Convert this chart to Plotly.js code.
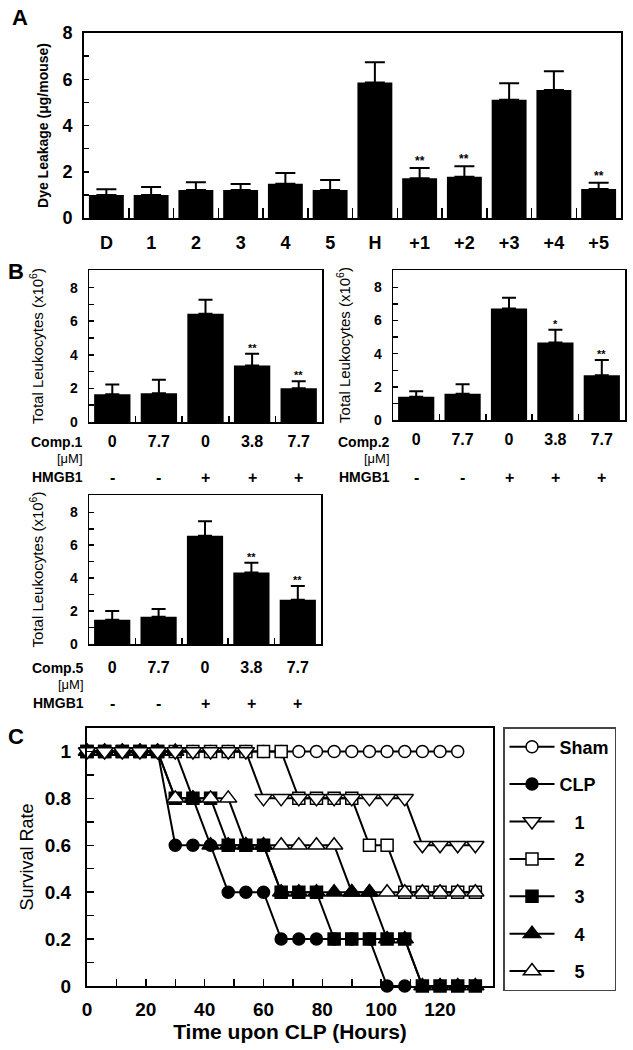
<!DOCTYPE html>
<html>
<head>
<meta charset="utf-8">
<script src="https://cdn.plot.ly/plotly-3.0.1.min.js"></script>
<style>html,body{margin:0;padding:0;background:#fff;}#chart{width:633px;height:1050px;}</style>
</head>
<body>
<div id="chart"></div>
<script>
// ---------- Panel A data ----------
const catsA = ["D","1","2","3","4","5","H","+1","+2","+3","+4","+5"];
const valsA = [0.99, 0.99, 1.21, 1.21, 1.48, 1.21, 5.86, 1.72, 1.78, 5.11, 5.53, 1.25];
const errA  = [0.25, 0.35, 0.34, 0.26, 0.47, 0.43, 0.88, 0.44, 0.46, 0.72, 0.82, 0.27];
const starsA = ["","","","","","","","**","**","","","**"];

// ---------- Panel B data ----------
const doseLabels = ["0","7.7","0","3.8","7.7"];
const hmgb1 = ["-","-","+","+","+"];
const valsB1 = [1.65, 1.71, 6.45, 3.36, 2.01];
const errB1  = [0.58, 0.80, 0.83, 0.70, 0.42];
const starsB1 = ["","","","**","**"];
const valsB2 = [1.40, 1.58, 6.72, 4.68, 2.70];
const errB2  = [0.34, 0.58, 0.66, 0.76, 0.92];
const starsB2 = ["","","","*","**"];
const valsB3 = [1.48, 1.66, 6.58, 4.35, 2.69];
const errB3  = [0.52, 0.47, 0.87, 0.59, 0.83];
const starsB3 = ["","","","**","**"];
const compNames = ["Comp.1","Comp.2","Comp.5"];

// ---------- Panel C data ----------
const timeH = [0,6,12,18,24,30,36,42,48,54,60,66,72,78,84,90,96,102,108,114,120,126,132];
const survSham = [1,1,1,1,1,1,1,1,1,1,1,1,1,1,1,1,1,1,1,1,1,1];
const survCLP  = [1,1,1,1,1,0.6,0.6,0.6,0.4,0.4,0.4,0.2,0.2,0.2,0.2,0.2,0.2,0,0];
const survC1   = [1,1,1,1,1,1,1,1,1,1,0.8,0.8,0.8,0.8,0.8,0.8,0.8,0.8,0.8,0.6,0.6,0.6,0.6];
const survC2   = [1,1,1,1,1,1,1,1,1,1,1,1,0.8,0.8,0.8,0.8,0.6,0.6,0.4,0.4,0.4,0.4,0.4];
const survC3   = [1,1,1,1,1,0.8,0.8,0.8,0.6,0.6,0.6,0.4,0.4,0.4,0.2,0.2,0.2,0.2,0.2,0,0,0,0];
const survC4   = [1,1,1,1,1,1,0.8,0.6,0.6,0.6,0.6,0.4,0.4,0.4,0.4,0.4,0.4,0.2,0.2,0,0,0,0];
const survC5   = [1,1,1,1,1,0.8,0.8,0.8,0.8,0.6,0.6,0.6,0.6,0.6,0.6,0.4,0.4,0.4,0.4,0.4,0.4,0.4,0.4];
const legendNames = ["Sham","CLP","1","2","3","4","5"];

// ---------- helpers ----------
const W = 633, H = 1050;
const fx = p => p / W;
const fy = p => 1 - p / H;
const FONT = "Arial, 'Liberation Sans', Helvetica, sans-serif";
const bcats = doseLabels.map((d, i) => d + " / HMGB1 " + hmgb1[i]);

const traces = [];
const annotations = [];

function barTrace(x, y, err, xa, ya, capw) {
  return {
    type: "bar", x: x, y: y, xaxis: xa, yaxis: ya, showlegend: false,
    marker: {color: "#000", line: {width: 0}},
    error_y: {type: "data", symmetric: false, array: err, arrayminus: err.map(() => 0),
              color: "#000", thickness: 2, width: capw},
    hoverinfo: "skip"
  };
}
// category index used as x so that labels like "+1" are not read as numbers
function starAnn(y, err, stars, xa, ya, size) {
  stars.forEach((s, i) => {
    if (!s) return;
    annotations.push({x: i, y: y[i] + err[i], xref: xa, yref: ya, text: s, showarrow: false,
      yanchor: "bottom", yshift: -2, font: {family: FONT, size: size, color: "#000", weight: "bold"}});
  });
}

// Panel A
traces.push(barTrace(catsA, valsA, errA, "x", "y", 10));
starAnn(valsA, errA, starsA, "x", "y", 12);

// Panel B
const bPanels = [
  {vals: valsB1, err: errB1, stars: starsB1, xa: "x2", ya: "y2", name: compNames[0], right: 85, rows: [442, 458, 477]},
  {vals: valsB2, err: errB2, stars: starsB2, xa: "x3", ya: "y3", name: compNames[1], right: 392, rows: [442, 458, 477]},
  {vals: valsB3, err: errB3, stars: starsB3, xa: "x4", ya: "y4", name: compNames[2], right: 86, rows: [668, 684, 703]}
];
bPanels.forEach(p => {
  traces.push(barTrace(bcats, p.vals, p.err, p.xa, p.ya, 7));
  starAnn(p.vals, p.err, p.stars, p.xa, p.ya, 11);
  annotations.push({xref: "paper", yref: "paper", x: fx(p.right), y: fy(p.rows[0]), xanchor: "right", yanchor: "middle",
    text: p.name, showarrow: false, font: {family: FONT, size: 14, color: "#000", weight: "bold"}});
  annotations.push({xref: "paper", yref: "paper", x: fx(p.right), y: fy(p.rows[1]), xanchor: "right", yanchor: "middle",
    text: "[\u03bcM]", showarrow: false, font: {family: FONT, size: 13, color: "#000"}});
  annotations.push({xref: "paper", yref: "paper", x: fx(p.right), y: fy(p.rows[2]), xanchor: "right", yanchor: "middle",
    text: "HMGB1", showarrow: false, font: {family: FONT, size: 14, color: "#000", weight: "bold"}});
  hmgb1.forEach((h, i) => {
    annotations.push({xref: p.xa, yref: "paper", x: i, y: fy(p.rows[2]), yanchor: "middle",
      text: h, showarrow: false, font: {family: FONT, size: 16, color: "#000", weight: "bold"}});
  });
});

// Panel C (drawing order chosen so overlapping markers stack like the reference)
const survSeries = [
  {y: survSham, sym: "circle", fill: "#fff", size: 12, name: legendNames[0]},
  {y: survCLP, sym: "circle", fill: "#000", size: 12, name: legendNames[1]},
  {y: survC2, sym: "square", fill: "#fff", size: 12, name: legendNames[3]},
  {y: survC3, sym: "square", fill: "#000", size: 12, name: legendNames[4]},
  {y: survC5, sym: "triangle-up", fill: "#fff", size: 15, name: legendNames[6]},
  {y: survC4, sym: "triangle-up", fill: "#000", size: 15, name: legendNames[5]},
  {y: survC1, sym: "triangle-down", fill: "#fff", size: 15, name: legendNames[2]}
];
const legendRank = {};
legendNames.forEach((n, i) => legendRank[n] = i);
survSeries.forEach(s => {
  const isNum = /^[0-9]$/.test(s.name);
  traces.push({
    type: "scatter", mode: "lines+markers", x: timeH.slice(0, s.y.length), y: s.y,
    xaxis: "x5", yaxis: "y5", cliponaxis: false,
    name: isNum ? "\u00a0\u00a0\u00a0" + s.name : s.name,
    legendrank: legendRank[s.name] + 1,
    legendgroup: "g" + s.name,
    line: {color: "#000", width: 2},
    marker: {symbol: s.sym, size: s.size, color: s.fill, line: {color: "#000", width: 1.5}},
    hoverinfo: "skip"
  });
});

// panel letters
[["A", 20, 17], ["B", 16, 272], ["C", 16, 736]].forEach(l => {
  annotations.push({xref: "paper", yref: "paper", x: fx(l[1]), y: fy(l[2]), xanchor: "center", yanchor: "middle",
    text: l[0], showarrow: false, font: {family: FONT, size: 22, color: "#000", weight: "bold"}});
});

const boldTick = size => ({family: FONT, size: size, color: "#000", weight: "bold"});
function catAxis(domain, anchor, tickSize, len, lw, standoff, tickvals, ticktext) {
  const a = {domain: domain, anchor: anchor, type: "category", tickson: "boundaries", ticks: "inside",
    ticklen: len, tickwidth: 1.5, tickcolor: "#000", showline: true, mirror: true, linewidth: lw, linecolor: "#000",
    showgrid: false, zeroline: false, tickfont: boldTick(tickSize), ticklabelstandoff: standoff, fixedrange: true};
  if (tickvals) { a.tickmode = "array"; a.tickvals = tickvals; a.ticktext = ticktext; }
  return a;
}
function valAxis(domain, anchor, range, dtick, mdtick, tickSize, lw, titleText, titleFont, standoff, labelStand) {
  return {domain: domain, anchor: anchor, range: range, dtick: dtick, tick0: 0, ticks: "inside", ticklen: 5,
    tickwidth: 1.5, tickcolor: "#000",
    minor: {dtick: mdtick, tick0: 0, ticks: "inside", ticklen: 5, tickwidth: 1.5, tickcolor: "#000"},
    showline: true, mirror: true, linewidth: lw, linecolor: "#000", showgrid: false, zeroline: false,
    tickfont: boldTick(tickSize), ticklabelstandoff: labelStand,
    title: {text: titleText, font: titleFont, standoff: standoff}, fixedrange: true};
}

const bTitleFont = {family: FONT, size: 15, color: "#000"};
const layout = {
  width: W, height: H, margin: {l: 0, r: 0, t: 0, b: 0},
  paper_bgcolor: "#fff", plot_bgcolor: "#fff",
  font: {family: FONT, color: "#000"},
  barmode: "group",
  showlegend: true,
  xaxis: catAxis([fx(84), fx(621)], "y", 18, 10, 2, 7),
  yaxis: valAxis([fy(218), fy(33)], "x", [0, 8], 2, 1, 18, 2, "Dye Leakage (\u03bcg/mouse)",
                 {family: FONT, size: 14, weight: "bold", color: "#000"}, 10, 6),
  xaxis2: catAxis([fx(89), fx(322)], "y2", 16, 6, 1.5, 4, bcats, doseLabels),
  yaxis2: valAxis([fy(422), fy(270)], "x2", [0, 9.05], 2, 1, 14, 1.5, "Total Leukocytes (x10<sup>6</sup>)",
                 bTitleFont, 22, 7),
  xaxis3: catAxis([fx(393), fx(625)], "y3", 16, 6, 1.5, 4, bcats, doseLabels),
  yaxis3: valAxis([fy(420), fy(270)], "x3", [0, 9.05], 2, 1, 14, 1.5, "Total Leukocytes (x10<sup>6</sup>)",
                 bTitleFont, 19, 7),
  xaxis4: catAxis([fx(89), fx(321)], "y4", 16, 6, 1.5, 8, bcats, doseLabels),
  yaxis4: valAxis([fy(644), fy(495)], "x4", [0, 9.05], 2, 1, 14, 1.5, "Total Leukocytes (x10<sup>6</sup>)",
                 bTitleFont, 22, 7),
  xaxis5: {domain: [fx(87), fx(493)], anchor: "y5", range: [0, 138], dtick: 20, tick0: 0, ticks: "inside", ticklen: 7,
    tickwidth: 1.5, tickcolor: "#000",
    minor: {dtick: 10, tick0: 0, ticks: "inside", ticklen: 7, tickwidth: 1.5, tickcolor: "#000"},
    showline: true, mirror: true, linewidth: 2, linecolor: "#000", showgrid: false, zeroline: false,
    tickfont: boldTick(19), ticklabelstandoff: 5,
    title: {text: "Time upon CLP (Hours)", font: {family: FONT, size: 21, weight: "bold", color: "#000"}, standoff: 0},
    fixedrange: true},
  yaxis5: {domain: [fy(986), fy(728)], anchor: "x5", range: [0, 1.1], dtick: 0.2, tick0: 0, ticks: "inside", ticklen: 7,
    tickwidth: 1.5, tickcolor: "#000",
    minor: {dtick: 0.1, tick0: 0, ticks: "inside", ticklen: 7, tickwidth: 1.5, tickcolor: "#000"},
    showline: true, mirror: true, linewidth: 2, linecolor: "#000", showgrid: false, zeroline: false,
    tickfont: boldTick(19), ticklabelstandoff: 10,
    title: {text: "Survival Rate", font: {family: FONT, size: 18, color: "#000"}, standoff: 6},
    fixedrange: true},
  bargap: 0.22,
  legend: {x: fx(503), y: fy(727), xanchor: "left", yanchor: "top", bordercolor: "#444", borderwidth: 1.5,
    bgcolor: "#fff", font: {family: FONT, size: 18, color: "#000", weight: "bold"},
    traceorder: "grouped", tracegroupgap: 11, itemwidth: 45, itemclick: false, itemdoubleclick: false},
  annotations: annotations
};

Plotly.newPlot("chart", traces, layout, {displayModeBar: false, staticPlot: true});
</script>
</body>
</html>
